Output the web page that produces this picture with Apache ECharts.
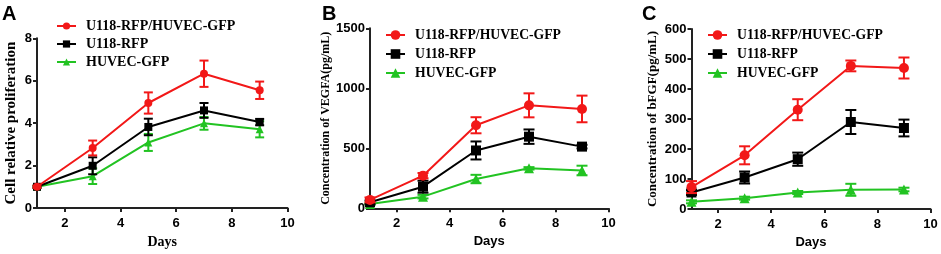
<!DOCTYPE html>
<html>
<head>
<meta charset="utf-8">
<script src="https://cdn.jsdelivr.net/npm/echarts@6/dist/echarts.min.js"></script>
<style>html,body{margin:0;padding:0;background:#fff;}#c{width:941px;height:254px;}</style>
</head>
<body>
<div id="c"></div>
<script>
// ---- data ----
const days = [1, 3, 5, 7, 9];
const groupNames = ['U118-RFP/HUVEC-GFP', 'U118-RFP', 'HUVEC-GFP'];
const xTicks = [2, 4, 6, 8, 10];

// Panel A: Cell relative proliferation
const A_co = [1.0, 2.83, 4.95, 6.33, 5.55];
const A_co_err = [0.05, 0.35, 0.5, 0.62, 0.41];
const A_u118 = [1.0, 1.99, 3.82, 4.6, 4.05];
const A_u118_err = [0.05, 0.4, 0.39, 0.35, 0.15];
const A_huvec = [1.0, 1.5, 3.09, 3.99, 3.71];
const A_huvec_err = [0.05, 0.37, 0.4, 0.3, 0.38];
const A_yTicks = [0, 2, 4, 6, 8];

// Panel B: VEGFA (pg/mL)
const B_co = [70, 272, 692, 858, 828];
const B_co_err = [20, 22, 67, 100, 111];
const B_u118 = [50, 180, 482, 597, 514];
const B_u118_err = [15, 50, 75, 60, 15];
const B_huvec = [35, 97, 244, 333, 315];
const B_huvec_err = [8, 15, 35, 10, 40];
const B_yTicks = [0, 500, 1000, 1500];

// Panel C: bFGF (pg/mL)
const C_co = [73, 179, 331, 477, 470];
const C_co_err = [20, 30, 35, 18, 35];
const C_u118 = [55, 105, 166, 290, 270];
const C_u118_err = [8, 20, 22, 40, 28];
const C_huvec = [24, 36, 55, 64, 65];
const C_huvec_err = [5, 5, 5, 20, 6];
const C_yTicks = [0, 100, 200, 300, 400, 500, 600];

const colors = ['#f21818', '#000000', '#22c322'];
const symbols = ['circle', 'rect', 'triangle'];

const panels = [
  { key: 'A', vals: [A_co, A_u118, A_huvec], errs: [A_co_err, A_u118_err, A_huvec_err], ticks: A_yTicks,
    yName: 'Cell relative proliferation',
    grid: { left: 37, top: 38.3, width: 250.5, height: 171 },
    yNameSize: 15, yNameGap: 18, xNameFont: 'Liberation Serif', xNameSize: 14,
    symSize: [8, 8, 8], cap: 9, legend: { left: 51, top: 14 } },
  { key: 'B', vals: [B_co, B_u118, B_huvec], errs: [B_co_err, B_u118_err, B_huvec_err], ticks: B_yTicks,
    yName: 'Concentration of VEGFA(pg/mL)',
    grid: { left: 370, top: 28.3, width: 238.5, height: 180 },
    yNameSize: 12, yNameGap: 36, xNameFont: 'Liberation Sans', xNameSize: 13,
    symSize: [10, 10, 10], cap: 11, legend: { left: 380, top: 23 } },
  { key: 'C', vals: [C_co, C_u118, C_huvec], errs: [C_co_err, C_u118_err, C_huvec_err], ticks: C_yTicks,
    yName: 'Concentration of bFGF(pg/mL)',
    grid: { left: 691.5, top: 29, width: 239, height: 180.3 },
    yNameSize: 13, yNameGap: 32, xNameFont: 'Liberation Sans', xNameSize: 13,
    symSize: [10, 10, 10], cap: 11, legend: { left: 702, top: 23 } }
];

const grids = [], xAxes = [], yAxes = [], series = [], legends = [], graphics = [];
const axisColor = '#222';

panels.forEach((p, pi) => {
  grids.push(Object.assign({ containLabel: false }, p.grid));
  xAxes.push({
    type: 'value', gridIndex: pi, min: 1, max: 10,
    name: 'Days', nameLocation: 'middle', nameGap: 27,
    nameTextStyle: { fontFamily: p.xNameFont, fontWeight: 'bold', fontSize: p.xNameSize, color: '#000' },
    axisLine: { show: true, lineStyle: { color: axisColor, width: 2 } },
    axisTick: { show: true, inside: false, length: 4, customValues: xTicks, lineStyle: { color: axisColor, width: 2 } },
    axisLabel: { customValues: xTicks, margin: 9, fontFamily: 'Liberation Sans', fontWeight: 'bold', fontSize: 13, color: '#000' },
    splitLine: { show: false }
  });
  const ymax = p.ticks[p.ticks.length - 1];
  yAxes.push({
    type: 'value', gridIndex: pi, min: 0, max: ymax, interval: p.ticks[1] - p.ticks[0],
    name: p.yName, nameLocation: 'middle', nameGap: p.yNameGap,
    nameTextStyle: { fontFamily: 'Liberation Serif', fontWeight: 'bold', fontSize: p.yNameSize, color: '#000' },
    axisLine: { show: true, lineStyle: { color: axisColor, width: 2 } },
    axisTick: { show: true, inside: false, length: 4, lineStyle: { color: axisColor, width: 2 } },
    axisLabel: { margin: 5, formatter: v => String(v), fontFamily: 'Liberation Sans', fontWeight: 'bold', fontSize: 13, color: '#000' },
    splitLine: { show: false }
  });
  const names = [];
  groupNames.forEach((g, gi) => {
    const sname = p.key + ':' + g;
    names.push(sname);
    series.push({
      name: sname, type: 'line', xAxisIndex: pi, yAxisIndex: pi,
      data: days.map((d, i) => [d, p.vals[gi][i]]),
      symbol: symbols[gi], symbolSize: p.symSize[gi], showAllSymbol: true,
      lineStyle: { color: colors[gi], width: 2 },
      itemStyle: { color: colors[gi] },
      z: 3 - gi + 2, animation: false
    });
    const cap = p.cap;
    series.push({
      name: sname + ' err', type: 'custom', xAxisIndex: pi, yAxisIndex: pi,
      data: days.map((d, i) => [d, p.vals[gi][i] - p.errs[gi][i], p.vals[gi][i] + p.errs[gi][i]]),
      encode: { x: 0, y: [1, 2] },
      renderItem: function (params, api) {
        const x = api.value(0), lo = api.value(1), hi = api.value(2);
        const a = api.coord([x, hi]), b = api.coord([x, lo]);
        const st = { stroke: colors[gi], lineWidth: 2 };
        return {
          type: 'group', children: [
            { type: 'line', shape: { x1: a[0], y1: a[1], x2: b[0], y2: b[1] }, style: st },
            { type: 'line', shape: { x1: a[0] - cap / 2, y1: a[1], x2: a[0] + cap / 2, y2: a[1] }, style: st },
            { type: 'line', shape: { x1: b[0] - cap / 2, y1: b[1], x2: b[0] + cap / 2, y2: b[1] }, style: st }
          ]
        };
      },
      z: 3 - gi + 2, animation: false, silent: true
    });
  });
  legends.push({
    data: names, orient: 'vertical', left: p.legend.left, top: p.legend.top,
    itemWidth: 19, itemHeight: pi === 0 ? 9 : 12, itemGap: pi === 0 ? 4 : 5,
    formatter: n => n.slice(2),
    textStyle: { fontFamily: 'Liberation Serif', fontWeight: 'bold', fontSize: pi === 0 ? 14 : 13.7, color: '#000', padding: [0, 0, 0, 5] },
    selectedMode: false
  });
  graphics.push({
    type: 'text', left: [2, 322, 642][pi], top: 4,
    style: { text: p.key, fontFamily: 'Liberation Sans', fontWeight: 'bold', fontSize: 20, fill: '#000' }
  });
});

const chart = echarts.init(document.getElementById('c'), null, { renderer: 'canvas' });
chart.setOption({
  animation: false,
  grid: grids, xAxis: xAxes, yAxis: yAxes, series: series, legend: legends, graphic: graphics
});
</script>
</body>
</html>
